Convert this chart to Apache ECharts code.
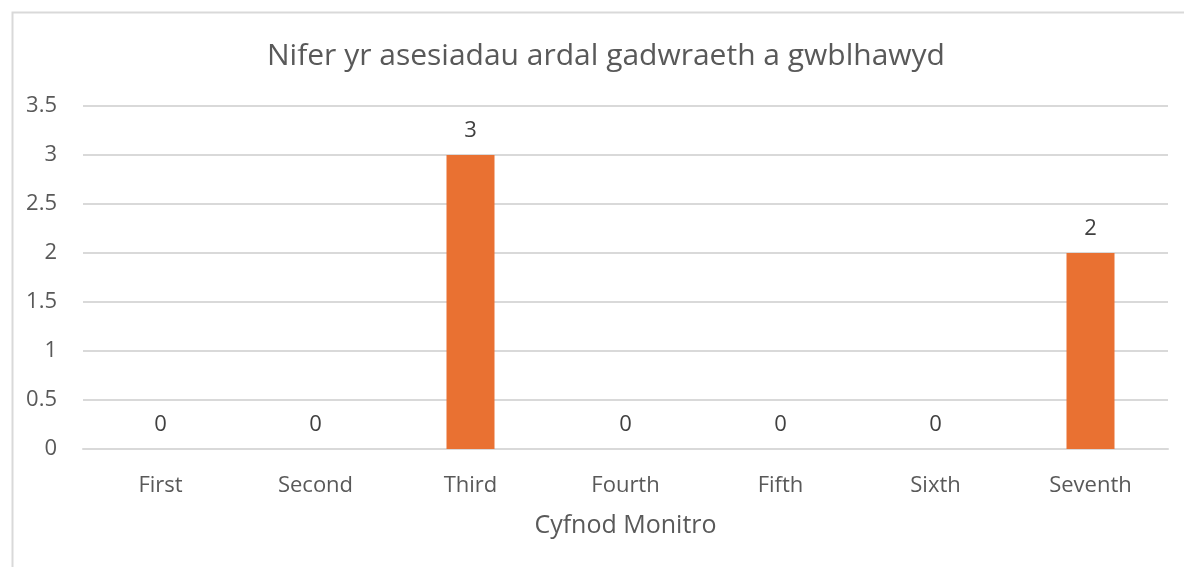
<!DOCTYPE html>
<html>
<head>
<meta charset="utf-8">
<script src="https://cdn.jsdelivr.net/npm/echarts@6/dist/echarts.min.js"></script>
<style>
  html, body { margin: 0; padding: 0; background: #fff; }
  #chart { width: 1184px; height: 567px; }
</style>
</head>
<body>
<div id="chart"></div>
<script>
  // data
  const titleText = 'Nifer yr asesiadau ardal gadwraeth a gwblhawyd';
  const axisName = 'Cyfnod Monitro';
  const periods = ['First', 'Second', 'Third', 'Fourth', 'Fifth', 'Sixth', 'Seventh'];
  const counts = [0, 0, 3, 0, 0, 0, 2];

  const font = '"Open Sans", "Noto Sans", sans-serif';
  const chart = echarts.init(document.getElementById('chart'));

  chart.setOption({
    backgroundColor: '#fff',
    animation: false,
    graphic: [{
      type: 'rect',
      left: 10, top: 10,
      shape: { width: 1200, height: 600 },
      style: { fill: 'none', stroke: '#d9d9d9', lineWidth: 2 },
      z: -1
    }],
    title: {
      text: titleText,
      left: 262,
      top: 36,
      textStyle: { fontFamily: font, fontSize: 30, fontWeight: 'normal', color: '#595959' }
    },
    grid: { left: 83, right: 16, top: 106, bottom: 118 },
    xAxis: {
      type: 'category',
      data: periods,
      name: axisName,
      nameLocation: 'middle',
      nameGap: 77,
      nameTextStyle: { fontFamily: font, fontSize: 25, color: '#595959', verticalAlign: 'middle' },
      axisLine: { lineStyle: { color: '#d9d9d9', width: 2 } },
      axisTick: { show: false },
      axisLabel: { fontFamily: font, fontSize: 22, color: '#595959', margin: 26 }
    },
    yAxis: {
      type: 'value',
      min: 0, max: 3.5, interval: 0.5,
      axisLine: { show: false },
      axisTick: { show: false },
      splitLine: { lineStyle: { color: '#d9d9d9', width: 2 } },
      axisLabel: { fontFamily: font, fontSize: 22, color: '#595959', margin: 26 }
    },
    series: [{
      type: 'bar',
      data: counts,
      barWidth: 48,
      itemStyle: { color: '#E97132' },
      label: {
        show: true,
        position: 'top',
        distance: 13,
        fontFamily: font, fontSize: 22, color: '#404040'
      }
    }]
  });
</script>
</body>
</html>
